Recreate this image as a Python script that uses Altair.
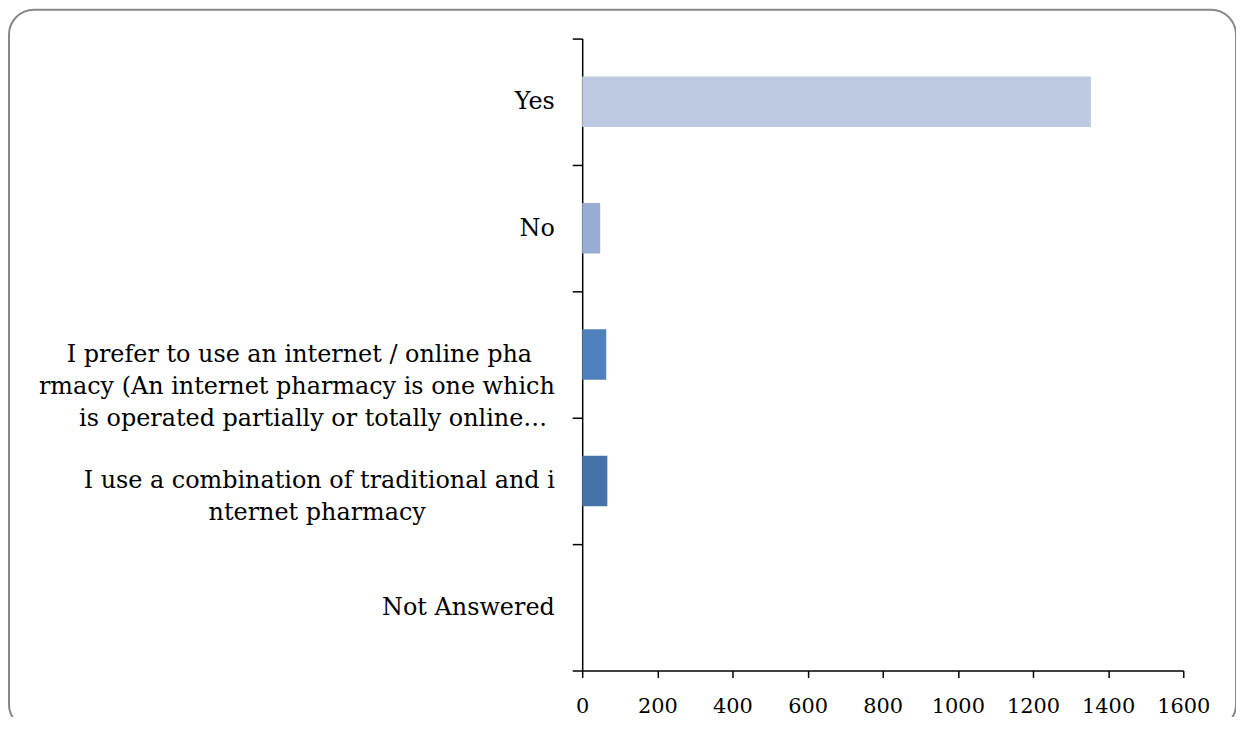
import altair as alt
import pandas as pd

NB = "\u00a0"   # non-breaking space used to pad the shorter wrapped lines
END = "\u200b"  # zero-width space so the padding is not trimmed

categories = [
    "Yes",
    "No",
    "I prefer to use an internet / online pha" + NB * 3 + END
    + "\nrmacy (An internet pharmacy is one which\nis operated partially or totally online…" + NB + END,
    "I use a combination of traditional and i\nnternet pharmacy" + NB * 17 + END,
    "Not Answered",
]
counts = [1354, 48, 64, 67, 0]
bar_colors = ["#BCC9E1", "#98ADD4", "#4F81BD", "#4573A7", "#3A5F8C"]
x_ticks = [0, 200, 400, 600, 800, 1000, 1200, 1400, 1600]

df = pd.DataFrame({"category": categories, "count": counts})

FONT = "DejaVu Serif"

bars = alt.Chart(df).mark_bar(height=alt.RelativeBandSize(0.4)).encode(
    y=alt.Y(
        "category:N",
        sort=categories,
        title=None,
        scale=alt.Scale(paddingInner=0, paddingOuter=0),
        axis=alt.Axis(
            labelExpr="split(datum.label, '\\n')",
            labelFont=FONT,
            labelFontSize=24,
            labelColor="#000000",
            labelLineHeight=32,
            labelPadding=18,
            labelLimit=0,
            tickBand="extent",
            tickSize=10,
            tickColor="#000000",
            tickWidth=1.5,
            domainColor="#000000",
            domainWidth=1.5,
            grid=False,
        ),
    ),
    x=alt.X(
        "count:Q",
        title=None,
        scale=alt.Scale(domain=[0, 1600], nice=False),
        axis=alt.Axis(
            values=x_ticks,
            format="d",
            labelFont=FONT,
            labelFontSize=21,
            labelColor="#000000",
            labelPadding=18,
            tickSize=7,
            tickColor="#000000",
            tickWidth=1.5,
            domainColor="#000000",
            domainWidth=1.5,
            grid=False,
            labelFlush=False,
        ),
    ),
    color=alt.Color(
        "category:N",
        scale=alt.Scale(domain=categories, range=bar_colors),
        legend=None,
    ),
)

border = alt.Chart(pd.DataFrame({"a": [0]})).mark_rect(
    fill=None, stroke="#878787", strokeWidth=2, cornerRadius=25
).encode(
    x=alt.value(-576),
    x2=alt.value(657),
    y=alt.value(-29),
    y2=alt.value(694),
)

chart = alt.layer(border, bars).properties(
    width=604,
    height=635,
    autosize=alt.AutoSizeParams(type="none"),
    padding={"left": 577, "top": 29, "right": 53, "bottom": 45},
).configure_view(stroke=None)

chart.save("out.html", embed_options={"renderer": "svg", "actions": False})
